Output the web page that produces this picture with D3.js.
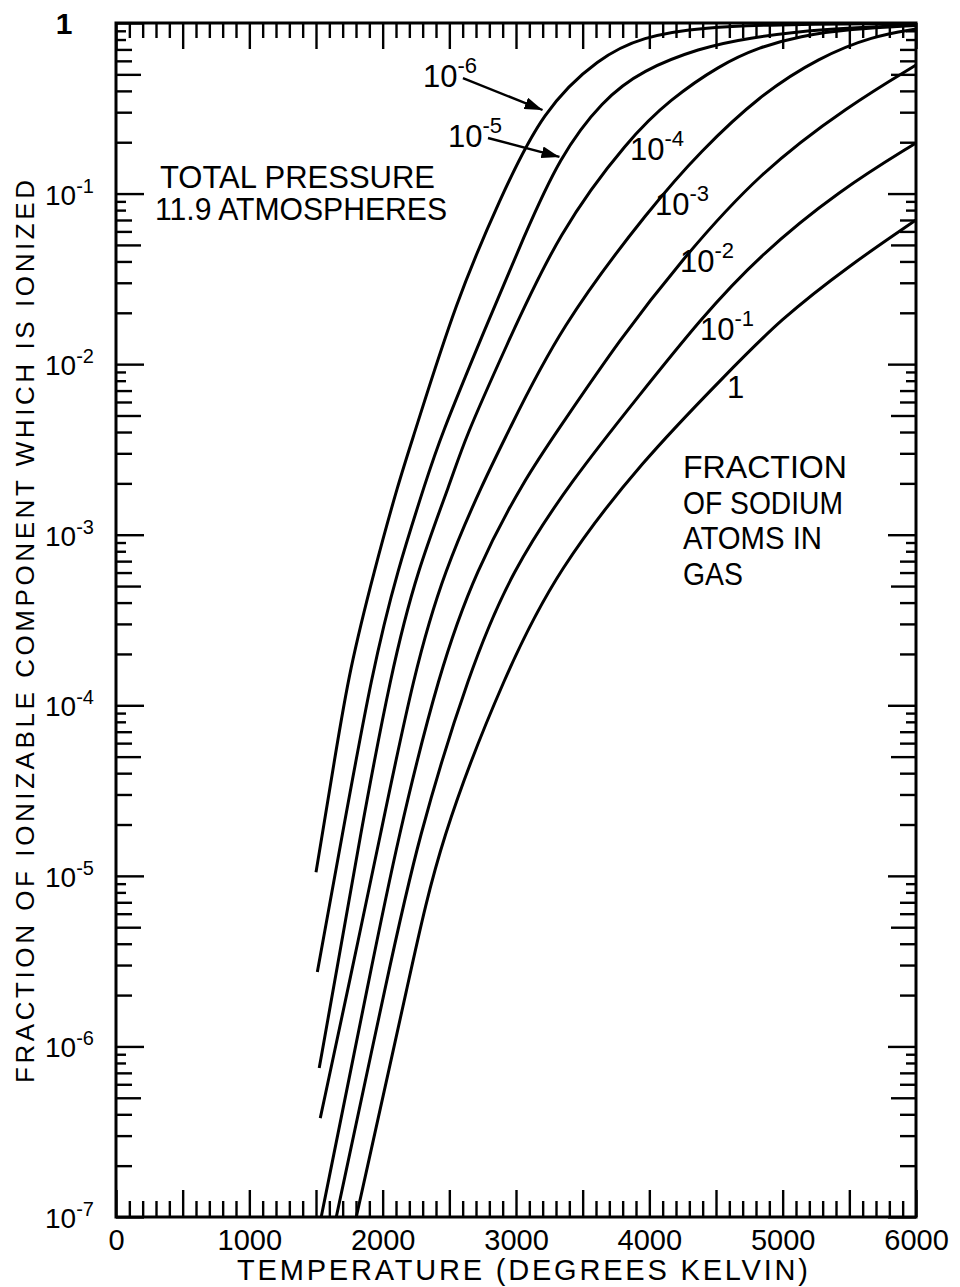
<!DOCTYPE html>
<html>
<head>
<meta charset="utf-8">
<script src="https://cdn.jsdelivr.net/npm/d3@7"></script>
<style>
  body { margin: 0; background: #fff; }
  svg { display: block; }
  text { font-family: "Liberation Sans", Arial, sans-serif; fill: #000; }
</style>
</head>
<body>
<svg id="chart" width="960" height="1287"></svg>
<script>
// temperature (K) vs fraction of the ionizable component that is ionized,
// one curve per fraction of sodium atoms in the gas
const na1e6 = [[1500,1.05e-5],[1645,5.1e-5],[1750,1.6e-4],[1937,6.2e-4],[2125,2.1e-3],[2223,3.6e-3],
  [2553,0.0238],[2876,0.0917],[3199,0.309],[3627,0.632],[3950,0.828],[4378,0.947],[5129,0.987],[6000,0.995]]
const na1e5 = [[1510,2.73e-6],[1690,1.62e-5],[1922,1.6e-4],[2110,6.2e-4],[2328,2.1e-3],[2425,3.6e-3],
  [2763,0.0158],[3064,0.0571],[3326,0.164],[3649,0.354],[3950,0.53],[4378,0.713],[4731,0.817],[5279,0.922],[6000,0.973]]
const na1e4 = [[1524,7.47e-7],[1652,2.69e-6],[1825,1.62e-5],[2065,1.6e-4],[2260,6.2e-4],[2516,2.1e-3],[2613,3.6e-3],
  [2913,0.0121],[3326,0.0611],[3852,0.212],[4152,0.354],[4528,0.567],[4828,0.723],[5129,0.839],[5504,0.922],[6000,0.967]]
const na1e3 = [[1532,3.8e-7],[1765,2.69e-6],[1975,1.62e-5],[2238,1.6e-4],[2463,6.2e-4],[2763,2.1e-3],[2913,3.6e-3],
  [3326,0.0165],[4025,0.0857],[4378,0.175],[4828,0.378],[5279,0.632],[5677,0.839],[6000,0.922]]
const na1e2 = [[1539,1e-7],[1907,2.69e-6],[2110,1.62e-5],[2425,1.6e-4],[2700,6.2e-4],[3060,2.1e-3],[3341,4.4e-3],
  [3777,0.0139],[4228,0.0397],[4828,0.134],[5504,0.331],[6000,0.567]]
const na1e1 = [[1652,1e-7],[2042,2.69e-6],[2260,1.62e-5],[2651,1.6e-4],[2970,6.2e-4],[3420,2.1e-3],[3927,6.59e-3],
  [4378,0.0182],[4828,0.0436],[5429,0.105],[6000,0.198]]
const na1 = [[1802,1e-7],[2208,2.69e-6],[2425,1.62e-5],[2929,1.6e-4],[3310,6.2e-4],[3950,2.74e-3],[4580,8.75e-3],
  [4978,0.0182],[5504,0.0381],[6000,0.07]]

const curves = [na1e6, na1e5, na1e4, na1e3, na1e2, na1e1, na1]
const curveExp = [-6, -5, -4, -3, -2, -1, 0]          // label 10^exp, 0 -> "1"
const labelAt = [[2302,0.421],[2490,0.1875],[3855,0.157],[4043,0.0749],[4230,0.0347],[4380,0.01386],[4583,6.33e-3]]
const arrowTip = [[3199,0.309],[3326,0.164]]          // 10^-6 and 10^-5 labels point at their curves

const tempTicks = d3.range(0, 6001, 1000)
const decades = d3.range(-7, 1)

const svg = d3.select("#chart")
const x = d3.scaleLinear().domain([0, 6000]).range([116, 916])
const y = d3.scaleLog().domain([1e-7, 1]).range([1217, 23])
const [x0, x1] = x.range(), [y0, y1] = y.range()

// ticks, all pointing into the plot
const minorT = d3.range(0, 6001, 100).filter(t => t % 500)
const majorT = d3.range(0, 6001, 500)
function noDomain(g) { g.select(".domain").remove(); g.selectAll("line").attr("stroke-width", 2.4) }
svg.append("g").attr("transform", `translate(0,${y0})`).call(d3.axisBottom(x).tickValues(minorT).tickSize(-16).tickFormat("")).call(noDomain)
svg.append("g").attr("transform", `translate(0,${y0})`).call(d3.axisBottom(x).tickValues(majorT).tickSize(-27).tickFormat("")).call(noDomain)
svg.append("g").attr("transform", `translate(0,${y1})`).call(d3.axisTop(x).tickValues(minorT).tickSize(-15).tickFormat("")).call(noDomain)
svg.append("g").attr("transform", `translate(0,${y1})`).call(d3.axisTop(x).tickValues(majorT).tickSize(-26).tickFormat("")).call(noDomain)

const logTicks = {}
decades.forEach(d => d3.range(1, 10).forEach(k => {
  const v = k * Math.pow(10, d)
  if (v > 1.0001) return
  const len = k == 1 ? 28 : k == 5 ? 25 : k >= 8 ? 10 : 16
  ;(logTicks[len] = logTicks[len] || []).push(v)
}))
Object.keys(logTicks).forEach(len => {
  svg.append("g").attr("transform", `translate(${x0},0)`)
    .call(d3.axisLeft(y).tickValues(logTicks[len]).tickSize(-len).tickFormat("")).call(noDomain)
  svg.append("g").attr("transform", `translate(${x1},0)`)
    .call(d3.axisRight(y).tickValues(logTicks[len]).tickSize(-len).tickFormat("")).call(noDomain)
})

// temperature labels
svg.append("g").attr("transform", `translate(0,${y0})`)
  .call(d3.axisBottom(x).tickValues(tempTicks).tickSize(0).tickPadding(12).tickFormat(d3.format("d")))
  .call(g => g.select(".domain").remove())
  .call(g => g.selectAll("text").attr("font-size", 29).attr("font-family", "Liberation Sans, Arial, sans-serif"))

// decade labels
decades.forEach(d => {
  const t = svg.append("text").attr("y", y(Math.pow(10, d)) + 11)
  if (d == 0) {
    t.attr("x", 64).attr("text-anchor", "middle").attr("font-size", 30).attr("font-weight", "bold").text("1")
  } else {
    t.attr("x", 45).attr("font-size", 28).text("10")
    t.append("tspan").attr("font-size", 20).attr("dy", -12).text("-" + (-d))
  }
})

// frame
svg.append("rect").attr("x", x0).attr("y", y1).attr("width", x1 - x0).attr("height", y0 - y1)
  .attr("fill", "none").attr("stroke", "#000").attr("stroke-width", 3)

// curves
svg.append("clipPath").attr("id", "plot").append("rect")
  .attr("x", x0).attr("y", y1).attr("width", x1 - x0).attr("height", y0 - y1)
const line = d3.line().x(d => x(d[0])).y(d => y(d[1])).curve(d3.curveBasis)
svg.append("g").attr("clip-path", "url(#plot)").selectAll("path").data(curves).join("path")
  .attr("d", line).attr("fill", "none").attr("stroke", "#000").attr("stroke-width", 3)

// curve labels
curveExp.forEach((e, i) => {
  const t = svg.append("text").attr("x", x(labelAt[i][0])).attr("y", y(labelAt[i][1])).attr("font-size", 31)
  if (e == 0) { t.text("1"); return }
  t.text("10")
  t.append("tspan").attr("font-size", 22).attr("dy", -14).text("-" + (-e))
})

svg.append("defs").append("marker").attr("id", "head")
  .attr("markerUnits", "userSpaceOnUse").attr("markerWidth", 20).attr("markerHeight", 12)
  .attr("refX", 18).attr("refY", 6).attr("orient", "auto")
  .append("path").attr("d", "M0,0L18,6L0,12Z").attr("fill", "#000")
arrowTip.forEach((p, i) => {
  svg.append("line")
    .attr("x1", x(labelAt[i][0]) + 40).attr("y1", y(labelAt[i][1]) - 9)
    .attr("x2", x(p[0])).attr("y2", y(p[1]))
    .attr("stroke", "#000").attr("stroke-width", 2.4).attr("marker-end", "url(#head)")
})

// notes and axis titles
const note = svg.append("g").attr("font-size", 31)
note.append("text").attr("x", 160).attr("y", 188).attr("textLength", 275).attr("lengthAdjust", "spacingAndGlyphs").text("TOTAL PRESSURE")
note.append("text").attr("x", 155).attr("y", 220).attr("textLength", 292).attr("lengthAdjust", "spacingAndGlyphs").text("11.9 ATMOSPHERES")

const gasLines = ["FRACTION", "OF SODIUM", "ATOMS IN", "GAS"]
const gasWidths = [164, 160, 139, 60]
gasLines.forEach((s, i) => {
  svg.append("text").attr("x", 683).attr("y", 478 + i * 35.5).attr("font-size", 31)
    .attr("textLength", gasWidths[i]).attr("lengthAdjust", "spacingAndGlyphs").text(s)
})

svg.append("text").attr("x", 237).attr("y", 1280).attr("font-size", 29)
  .attr("textLength", 571).attr("lengthAdjust", "spacing").text("TEMPERATURE (DEGREES KELVIN)")
svg.append("text").attr("transform", "translate(34,1083) rotate(-90)").attr("font-size", 26)
  .attr("textLength", 903).attr("lengthAdjust", "spacing").text("FRACTION OF IONIZABLE COMPONENT WHICH IS IONIZED")
</script>
</body>
</html>
